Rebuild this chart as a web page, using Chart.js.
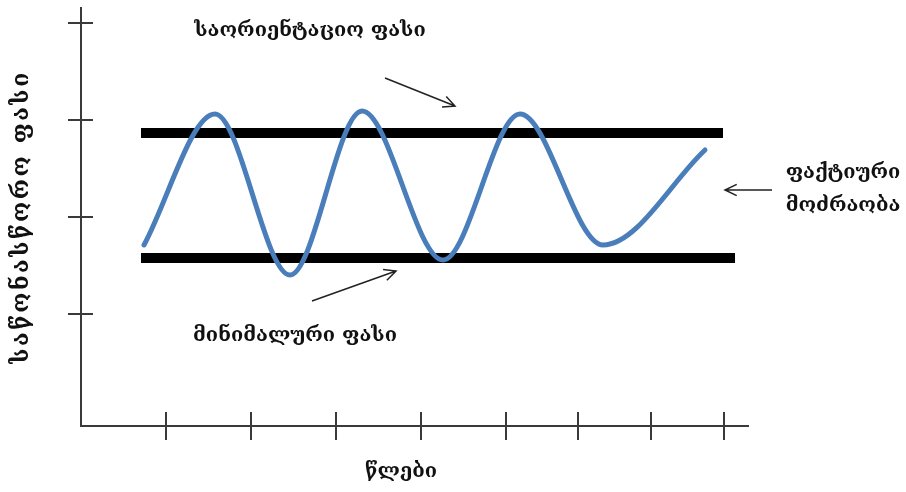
<!DOCTYPE html>
<html>
<head>
<meta charset="utf-8">
<script src="https://cdn.jsdelivr.net/npm/chart.js@4"></script>
<style>
  body { margin: 0; background: #fff; }
  #wrap { width: 906px; height: 492px; }
</style>
</head>
<body>
<div id="wrap"><canvas id="cycleChart"></canvas></div>
<script>
// values are in plot units: x runs 0..667 along the time axis, y 0..418 up the price axis
const xTicks = [85, 170, 255, 340, 425, 497, 570, 643];
const yTicks = [112, 209, 306, 403];

// actual price movement (turning points)
const waveX = [63, 134, 209, 281, 362, 439, 522, 624];
const waveY = [181, 312, 151, 315, 166, 312, 181, 276];

// orientation price (upper) and minimum price (lower)
const upperX = [60, 642];
const upperY = [293, 293];
const lowerX = [60, 654];
const lowerY = [168, 168];

const labels = {
    upper: 'საორიენტაციო ფასი',
    lower: 'მინიმალური ფასი',
    actual: ['ფაქტიური', 'მოძრაობა'],
    xTitle: 'წლები',
    yTitle: 'საწონასწორო ფასი'
};

const toPoints = (xs, ys) => xs.map((x, i) => ({ x: x, y: ys[i] }));
const FAMILY = '"DejaVu Serif", "DejaVu Sans", sans-serif';

function arrow(ctx, x1, y1, x2, y2) {
    const a = Math.atan2(y2 - y1, x2 - x1);
    const len = 13, spread = 0.45;
    ctx.beginPath();
    ctx.moveTo(x1, y1);
    ctx.lineTo(x2, y2);
    ctx.moveTo(x2 - len * Math.cos(a - spread), y2 - len * Math.sin(a - spread));
    ctx.lineTo(x2, y2);
    ctx.lineTo(x2 - len * Math.cos(a + spread), y2 - len * Math.sin(a + spread));
    ctx.stroke();
}

// tick crosses, arrows and the text notes
const notes = {
    id: 'notes',
    afterDraw(chart) {
        const ctx = chart.ctx;
        const xs = chart.scales.x, ys = chart.scales.y;
        const px = v => xs.getPixelForValue(v);
        const py = v => ys.getPixelForValue(v);
        ctx.save();

        ctx.strokeStyle = '#3a3a3a';
        ctx.lineWidth = 2;
        ctx.beginPath();
        yTicks.forEach(v => {
            ctx.moveTo(xs.left - 13, Math.round(py(v)));
            ctx.lineTo(xs.left + 12, Math.round(py(v)));
        });
        xTicks.forEach(v => {
            ctx.moveTo(Math.round(px(v)), ys.bottom - 14);
            ctx.lineTo(Math.round(px(v)), ys.bottom + 14);
        });
        ctx.stroke();

        ctx.strokeStyle = '#222';
        ctx.lineWidth = 1.5;
        arrow(ctx, 385, 78, 455, 106);
        arrow(ctx, 312, 301, 396, 271);
        arrow(ctx, 772, 190, 725, 190);

        ctx.fillStyle = '#111';
        ctx.font = 'bold 20px ' + FAMILY;
        ctx.textAlign = 'center';
        ctx.textBaseline = 'middle';
        ctx.fillText(labels.upper, 310, 31);
        ctx.fillText(labels.lower, 295, 336);
        ctx.fillText(labels.actual[0], 843, 173);
        ctx.fillText(labels.actual[1], 843, 206);
        ctx.fillText(labels.xTitle, 401, 472);

        ctx.translate(22, 217);
        ctx.rotate(-Math.PI / 2);
        ctx.font = 'bold 23px ' + FAMILY;
        ctx.letterSpacing = '2.5px';
        ctx.fillText(labels.yTitle, 0, 0);
        ctx.restore();
    }
};

const ctx = document.getElementById('cycleChart').getContext('2d');
new Chart(ctx, {
    type: 'line',
    data: {
        datasets: [{
            data: toPoints(waveX, waveY),
            borderColor: '#4a7ebb',
            borderWidth: 5,
            borderCapStyle: 'round',
            cubicInterpolationMode: 'monotone',
            pointRadius: 0
        }, {
            data: toPoints(upperX, upperY),
            borderColor: '#000',
            borderWidth: 10,
            borderCapStyle: 'butt',
            pointRadius: 0
        }, {
            data: toPoints(lowerX, lowerY),
            borderColor: '#000',
            borderWidth: 10,
            borderCapStyle: 'butt',
            pointRadius: 0
        }]
    },
    options: {
        responsive: true,
        maintainAspectRatio: false,
        animation: false,
        layout: { padding: { top: 8, right: 158, left: 0, bottom: 0 } },
        plugins: { legend: { display: false }, tooltip: { enabled: false } },
        scales: {
            x: {
                type: 'linear', min: 0, max: 667,
                ticks: { display: false },
                grid: { display: false },
                border: { display: true, color: '#3a3a3a', width: 2 },
                afterFit: s => { s.height = 66; }
            },
            y: {
                min: 0, max: 418,
                ticks: { display: false },
                grid: { display: false },
                border: { display: true, color: '#3a3a3a', width: 2 },
                afterFit: s => { s.width = 81; }
            }
        }
    },
    plugins: [notes]
});
</script>
</body>
</html>
